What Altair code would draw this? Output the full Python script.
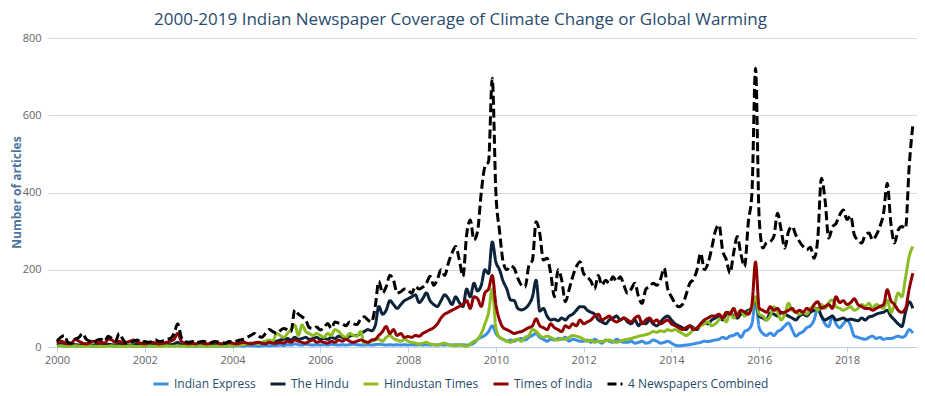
import altair as alt
import pandas as pd

series_names = ["Indian Express", "The Hindu", "Hindustan Times", "Times of India", "4 Newspapers Combined"]
colors = ["#3a8ee6", "#0d233a", "#8bbc21", "#910000", "#000000"]
dash_styles = [[1, 0], [1, 0], [1, 0], [1, 0], [9, 4]]

# monthly values, Jan 2000 - Jul 2019
indian_express = (
    [3, 4, 2, 3, 5, 3, 2, 3, 4, 3, 2, 3] +
    [3, 2, 4, 3, 2, 3, 4, 2, 3, 2, 3, 2] +
    [2, 3, 2, 3, 2, 3, 4, 3, 5, 8, 4, 3] +
    [2, 3, 2, 3, 2, 3, 2, 3, 2, 3, 2, 3] +
    [2, 3, 3, 2, 4, 3, 3, 2, 3, 4, 3, 4] +
    [4, 5, 4, 6, 5, 8, 6, 5, 7, 6, 5, 6] +
    [5, 6, 5, 7, 6, 5, 6, 5, 6, 7, 6, 5] +
    [5, 6, 5, 6, 7, 6, 5, 6, 5, 6, 5, 6] +
    [5, 6, 5, 6, 5, 6, 5, 6, 5, 6, 5, 6] +
    [5, 6, 5, 6, 5, 6, 10, 20, 25, 30, 40, 55] +
    [35, 25, 20, 15, 18, 15, 20, 22, 18, 25, 30, 35] +
    [25, 20, 15, 20, 18, 22, 20, 25, 15, 20, 18, 15] +
    [15, 18, 12, 20, 15, 10, 18, 15, 12, 20, 15, 12] +
    [12, 15, 10, 12, 15, 10, 12, 18, 15, 10, 12, 15] +
    [10, 5, 3, 4, 5, 6, 8, 10, 12, 15, 14, 16] +
    [18, 20, 25, 22, 28, 30, 35, 25, 40, 45, 60, 120] +
    [50, 35, 30, 36, 30, 40, 45, 55, 62, 45, 28, 35] +
    [40, 50, 55, 70, 100, 80, 60, 53, 80, 60, 50, 60] +
    [70, 55, 28, 25, 22, 20, 25, 28, 22, 25, 20, 22] +
    [22, 25, 28, 25, 30, 45, 36]
)

the_hindu = (
    [5, 8, 6, 5, 7, 6, 5, 6, 8, 6, 5, 6] +
    [6, 5, 7, 6, 5, 8, 6, 4, 5, 6, 7, 5] +
    [5, 4, 6, 5, 6, 5, 7, 6, 8, 12, 6, 5] +
    [4, 5, 4, 5, 6, 4, 5, 6, 5, 4, 5, 6] +
    [5, 6, 7, 8, 8, 10, 10, 12, 10, 12, 15, 14] +
    [15, 18, 20, 22, 18, 25, 20, 22, 25, 20, 22, 25] +
    [20, 22, 20, 25, 22, 28, 25, 22, 28, 30, 30, 35] +
    [40, 45, 42, 55, 105, 85, 95, 120, 110, 100, 110, 120] +
    [125, 130, 135, 115, 125, 140, 120, 110, 105, 120, 135, 125] +
    [110, 130, 115, 105, 150, 130, 165, 145, 160, 200, 190, 272] +
    [220, 200, 170, 150, 122, 120, 100, 96, 100, 110, 130, 173] +
    [93, 100, 80, 70, 72, 68, 75, 70, 80, 85, 95, 104] +
    [104, 95, 90, 85, 70, 65, 60, 70, 75, 80, 70, 75] +
    [65, 60, 70, 55, 65, 60, 70, 60, 55, 65, 75, 80] +
    [70, 60, 55, 50, 45, 55, 50, 45, 60, 65, 60, 70] +
    [75, 80, 70, 85, 90, 80, 75, 85, 90, 95, 100, 125] +
    [80, 75, 70, 88, 85, 80, 90, 85, 80, 75, 70, 80] +
    [85, 80, 90, 95, 100, 80, 70, 75, 80, 70, 72, 75] +
    [70, 72, 70, 68, 75, 70, 78, 80, 85, 88, 90, 95] +
    [80, 70, 60, 53, 90, 117, 100]
)

hindustan_times = (
    [2, 3, 2, 1, 2, 3, 2, 1, 2, 3, 2, 2] +
    [2, 1, 2, 3, 2, 2, 1, 2, 3, 2, 1, 2] +
    [2, 3, 2, 2, 1, 2, 3, 2, 2, 3, 2, 2] +
    [1, 2, 2, 3, 2, 1, 2, 2, 3, 2, 2, 3] +
    [3, 4, 5, 6, 8, 8, 10, 8, 12, 15, 18, 15] +
    [35, 30, 25, 35, 45, 57, 30, 57, 40, 35, 30, 35] +
    [30, 25, 35, 30, 45, 40, 30, 25, 35, 30, 28, 40] +
    [10, 12, 15, 18, 20, 15, 25, 30, 22, 18, 15, 20] +
    [15, 12, 10, 8, 10, 12, 8, 6, 5, 8, 10, 6] +
    [5, 3, 6, 4, 2, 8, 15, 20, 35, 60, 90, 150] +
    [50, 25, 20, 15, 12, 18, 20, 15, 25, 30, 45, 40] +
    [30, 25, 28, 25, 20, 18, 22, 20, 25, 30, 28, 25] +
    [20, 15, 18, 12, 15, 14, 16, 18, 15, 12, 15, 18] +
    [20, 22, 25, 28, 30, 32, 35, 40, 38, 42, 40, 45] +
    [42, 45, 40, 35, 30, 35, 45, 50, 55, 60, 65, 55] +
    [60, 70, 80, 65, 90, 75, 85, 95, 80, 90, 100, 130] +
    [85, 80, 70, 80, 104, 90, 70, 85, 113, 95, 90, 85] +
    [90, 85, 100, 104, 95, 110, 100, 115, 122, 105, 100, 95] +
    [100, 104, 95, 100, 110, 105, 113, 100, 110, 105, 100, 122] +
    [90, 110, 140, 130, 180, 234, 260]
)

times_of_india = (
    [10, 15, 12, 8, 10, 20, 15, 10, 8, 12, 15, 10] +
    [12, 10, 20, 18, 12, 15, 10, 12, 15, 18, 12, 10] +
    [8, 10, 12, 10, 8, 10, 12, 15, 20, 35, 15, 10] +
    [8, 10, 8, 12, 10, 8, 10, 12, 10, 8, 10, 12] +
    [10, 8, 10, 12, 10, 8, 10, 12, 10, 8, 12, 10] +
    [10, 12, 10, 15, 12, 18, 15, 12, 10, 15, 18, 12] +
    [15, 12, 10, 15, 12, 18, 15, 20, 15, 12, 15, 18] +
    [15, 12, 18, 20, 30, 40, 53, 35, 45, 30, 35, 25] +
    [27, 25, 30, 28, 35, 40, 45, 50, 60, 75, 85, 90] +
    [95, 100, 105, 110, 120, 100, 130, 125, 105, 140, 150, 185] +
    [110, 70, 50, 45, 40, 35, 38, 40, 45, 50, 55, 73] +
    [55, 50, 45, 60, 50, 45, 40, 55, 50, 60, 55, 70] +
    [60, 65, 70, 80, 85, 70, 75, 80, 70, 65, 70, 75] +
    [70, 65, 75, 80, 60, 70, 75, 65, 70, 60, 65, 70] +
    [60, 55, 50, 45, 50, 55, 45, 50, 60, 70, 75, 80] +
    [80, 85, 75, 90, 85, 100, 80, 95, 90, 85, 110, 220] +
    [100, 95, 90, 104, 95, 100, 88, 90, 95, 100, 90, 95] +
    [90, 100, 95, 110, 117, 100, 105, 110, 100, 130, 115, 120] +
    [110, 115, 125, 110, 105, 100, 100, 95, 100, 105, 110, 148] +
    [120, 110, 95, 90, 100, 150, 191]
)

combined = (
    [15, 25, 30, 12, 10, 20, 25, 35, 20, 15, 12, 18] +
    [20, 15, 28, 22, 15, 35, 20, 10, 12, 15, 18, 12] +
    [14, 12, 15, 18, 14, 16, 20, 22, 35, 60, 25, 15] +
    [12, 14, 10, 13, 15, 12, 11, 14, 13, 12, 10, 14] +
    [14, 15, 18, 20, 25, 30, 35, 28, 25, 35, 45, 40] +
    [35, 42, 48, 45, 40, 96, 85, 78, 70, 50, 48, 52] +
    [44, 50, 61, 48, 65, 62, 60, 55, 65, 60, 58, 72] +
    [78, 70, 65, 104, 170, 140, 156, 186, 173, 140, 143, 150] +
    [147, 139, 157, 150, 155, 165, 183, 160, 175, 200, 185, 217] +
    [243, 260, 226, 183, 290, 329, 277, 300, 400, 467, 480, 696] +
    [400, 300, 220, 200, 210, 204, 178, 160, 155, 210, 225, 324] +
    [294, 225, 230, 190, 130, 200, 173, 117, 148, 182, 208, 221] +
    [190, 182, 170, 150, 185, 160, 173, 165, 182, 170, 182, 160] +
    [139, 150, 165, 130, 113, 150, 156, 165, 160, 175, 204, 150] +
    [130, 113, 104, 110, 135, 165, 175, 200, 243, 200, 217, 255] +
    [300, 316, 250, 226, 191, 243, 286, 240, 208, 321, 398, 722] +
    [330, 256, 270, 273, 286, 346, 303, 256, 299, 312, 290, 273] +
    [260, 252, 258, 230, 280, 437, 381, 282, 310, 320, 342, 355] +
    [330, 340, 290, 277, 269, 290, 295, 277, 290, 312, 346, 424] +
    [320, 269, 303, 312, 307, 467, 575]
)

x_ticks = [2000, 2002, 2004, 2006, 2008, 2010, 2012, 2014, 2016, 2018]
y_ticks = [0, 200, 400, 600, 800]

rows = []
for name, vals in zip(series_names, [indian_express, the_hindu, hindustan_times, times_of_india, combined]):
    for i, v in enumerate(vals):
        rows.append({"series": name, "t": 2000 + i / 12.0, "value": v})
df = pd.DataFrame(rows)

FONT = "Open Sans"

legend_cfg = dict(title=None, orient="none", direction="horizontal",
                  legendX=104, legendY=337, symbolType="stroke",
                  symbolStrokeWidth=3, symbolSize=225,
                  labelFont=FONT, labelFontSize=12,
                  labelColor="#274b6d", columnPadding=8, labelOffset=4)

base = alt.Chart(df).mark_line(strokeWidth=3, interpolate="monotone").encode(
    x=alt.X("t:Q",
            scale=alt.Scale(domain=[1999.795, 2019.595], nice=False, zero=False),
            axis=alt.Axis(values=x_ticks, format="d", title=None, grid=False,
                          domainColor="#C0D0E0", tickColor="#C0D0E0", tickSize=5,
                          labelColor="#666666", labelFontSize=11, labelFont=FONT,
                          labelPadding=2)),
    y=alt.Y("value:Q",
            scale=alt.Scale(domain=[0, 800], nice=False),
            axis=alt.Axis(values=y_ticks, title="Number of articles", grid=True,
                          gridColor="#d8d8d8", domain=False, ticks=False,
                          labelColor="#666666", labelFontSize=11, labelFont=FONT,
                          labelPadding=7, titleColor="#4d759e", titleFontWeight="bold",
                          titleFontSize=12, titleFont=FONT, titleX=-25, titleY=154)),
    color=alt.Color("series:N",
                    scale=alt.Scale(domain=series_names, range=colors),
                    legend=alt.Legend(**legend_cfg)),
    strokeDash=alt.StrokeDash("series:N",
                              scale=alt.Scale(domain=series_names, range=dash_styles),
                              legend=alt.Legend(**legend_cfg)),
)

layers = [base.transform_filter(alt.datum.series == n) for n in series_names]

chart = alt.layer(*layers).properties(
    width=869,
    height=309,
    title=alt.TitleParams(
        text="2000-2019 Indian Newspaper Coverage of Climate Change or Global Warming",
        font=FONT, fontSize=17, fontWeight="normal", color="#274b6d",
        anchor="middle", offset=3, dx=-22),
    autosize=alt.AutoSizeParams(type="none"),
    padding={"left": 40, "top": 30, "right": 0, "bottom": 48},
).configure_view(stroke=None)

chart.save("out.html", embed_options={"renderer": "svg", "actions": False})
